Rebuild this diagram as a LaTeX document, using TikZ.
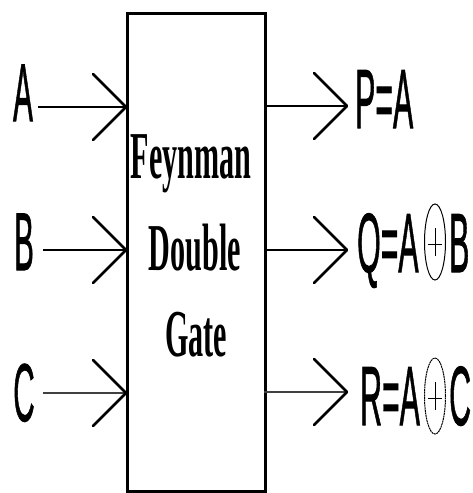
\documentclass[tikz,border=0pt]{standalone}
\usepackage{fontspec}
\setmainfont{Liberation Serif}
\newfontfamily\lsans[FakeBold=1.3]{Liberation Sans}
\usetikzlibrary{calc}
\begin{document}
\begin{tikzpicture}[x=1pt,y=-1pt,
  wire/.style={line width=2pt},
  vhead/.pic={\draw[line width=2.6pt,line cap=round,line join=round] (-33,-33) -- (0,0) -- (-33,33);},
  inlbl/.style={inner sep=0pt,anchor=base,font=\lsans\fontsize{82}{82}\selectfont},
  outlbl/.style={inner sep=0pt,anchor=base west,font=\lsans\fontsize{84}{84}\selectfont},
  gatetxt/.style={inner sep=0pt,anchor=base,font=\bfseries\fontsize{67}{67}\selectfont},
  xorsym/.style={line width=1pt,black}
]
\path[use as bounding box,fill=white] (0,0) rectangle (472,493);
% box
\node[draw,line width=3pt,minimum width=138pt,minimum height=478pt,anchor=north west,inner sep=0pt] (box) at (126,12) {};
\node[gatetxt] (t1) at (191,178) {\scalebox{0.45}[1]{Feynman}};
\node[gatetxt] (t2) at (195,270) {\scalebox{0.45}[1]{Double}};
\node[gatetxt] (t3) at (196,356) {\scalebox{0.45}[1]{Gate}};
% input labels
\node[inlbl] (A) at (23,121) {\scalebox{0.36}[1]{A}};
\node[inlbl] (B) at (24,270) {\scalebox{0.36}[1]{B}};
\node[inlbl] (C) at (24,421) {\scalebox{0.36}[1]{C}};
% input wires
\coordinate (sA) at (38,107);
\coordinate (sB) at (43,250);
\coordinate (sC) at (43,393);
\coordinate (iA) at (126,107);
\coordinate (iB) at (126,250);
\coordinate (iC) at (126,393);
\draw[wire] (sA) -- (iA);
\draw[wire] (sB) -- (iB);
\draw[wire,black!75] (sC) -- (iC);
\pic at (iA) {vhead};
\pic at (iB) {vhead};
\pic at (iC) {vhead};
% output wires
\coordinate (oA) at (264,106);
\coordinate (oB) at (264,250);
\coordinate (oC) at (264,392);
\coordinate (eA) at (347,106);
\coordinate (eB) at (347,250);
\coordinate (eC) at (347,392);
\draw[wire] (oA) -- (eA);
\draw[wire] (oB) -- (eB);
\draw[wire,black!75] (oC) -- (eC);
\pic at (eA) {vhead};
\pic at (eB) {vhead};
\pic at (eC) {vhead};
% output labels
\node[outlbl] (P) at (355,128) {\scalebox{0.36}[1]{P=A}};
\node[outlbl] (Q) at (357,272) {\scalebox{0.36}[1]{Q=A}};
\node[outlbl] (QB) at (449,272) {\scalebox{0.36}[1]{B}};
\node[outlbl] (R) at (360,425) {\scalebox{0.36}[1]{R=A}};
\node[outlbl] (RC) at (449,425) {\scalebox{0.36}[1]{C}};
% xor symbols
\coordinate (x1) at (435,242);
\coordinate (x2) at (435,396);
\draw[xorsym] (x1) ellipse [x radius=10.5pt, y radius=38pt];
\draw[xorsym] ($(x1)+(0,-14)$) -- ($(x1)+(0,14)$);
\draw[xorsym] ($(x1)+(-7,2)$) -- ($(x1)+(7,2)$);
\draw[xorsym,dash pattern=on 2pt off 0.6pt] (x2) ellipse [x radius=10.5pt, y radius=38pt];
\draw[xorsym] ($(x2)+(0,-14)$) -- ($(x2)+(0,14)$);
\draw[xorsym] ($(x2)+(-7,2)$) -- ($(x2)+(7,2)$);
\end{tikzpicture}
\end{document}
